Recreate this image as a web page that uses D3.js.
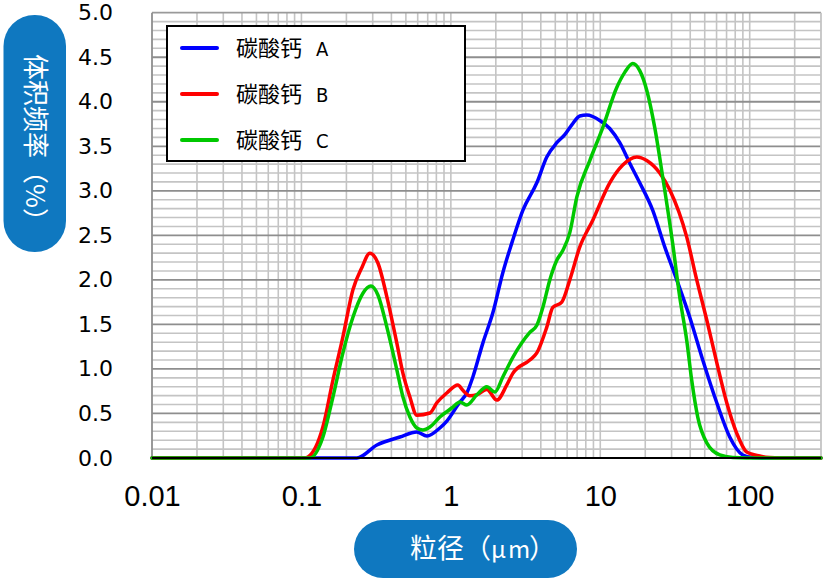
<!DOCTYPE html>
<html>
<head>
<meta charset="utf-8">
<script src="https://cdn.jsdelivr.net/npm/d3@7"></script>
<style>
  html, body { margin: 0; padding: 0; background: #fff; }
  svg { display: block; }
</style>
</head>
<body>
<svg id="chart" width="827" height="583"></svg>
<script>
// ---- data (particle size in µm, volume frequency in %) ----
const seriesNames = ["碳酸钙", "碳酸钙", "碳酸钙"];
const seriesTags = ["A", "B", "C"];
const seriesColors = ["#0000FF", "#FF0000", "#00C800"];

const sizeA = [0.01, 0.2, 0.235, 0.32, 0.456, 0.592, 0.691, 0.844, 0.94, 1.149, 1.279, 1.404, 1.637, 1.91, 2.227, 2.599, 3.031, 3.761, 4.386, 5.117, 5.787, 6.448, 7.294, 8.123, 9.924, 11.57, 13.5, 15.75, 18.37, 22.45, 27.0, 32.5, 39.7, 48.5, 60.2, 73.5, 89.8, 104.7, 120, 300];
const volA  = [0, 0, 0.0, 0.146, 0.236, 0.292, 0.247, 0.337, 0.415, 0.628, 0.73, 0.91, 1.29, 1.63, 2.08, 2.45, 2.78, 3.09, 3.38, 3.54, 3.63, 3.74, 3.84, 3.85, 3.79, 3.70, 3.54, 3.31, 3.09, 2.78, 2.37, 2.0, 1.58, 1.10, 0.62, 0.236, 0.034, 0.005, 0, 0];

const sizeB = [0.01, 0.1055, 0.1105, 0.1393, 0.1625, 0.1895, 0.2211, 0.254, 0.287, 0.325, 0.373, 0.435, 0.478, 0.532, 0.592, 0.724, 0.806, 0.94, 1.114, 1.203, 1.34, 1.493, 1.741, 2.031, 2.369, 2.599, 3.376, 3.761, 4.386, 4.811, 5.526, 6.252, 7.294, 8.909, 11.57, 14.14, 17.54, 20.46, 25.0, 29.2, 37.9, 44.2, 51.6, 60.2, 70.2, 81.8, 95.5, 116.7, 136, 160, 300];
const volB  = [0, 0, 0.01, 0.35, 0.875, 1.36, 1.89, 2.14, 2.30, 2.19, 1.81, 1.29, 0.95, 0.685, 0.48, 0.505, 0.62, 0.73, 0.82, 0.76, 0.70, 0.71, 0.77, 0.65, 0.82, 0.95, 1.10, 1.18, 1.47, 1.69, 1.75, 2.0, 2.37, 2.67, 3.09, 3.29, 3.38, 3.34, 3.20, 3.01, 2.48, 2.0, 1.55, 1.07, 0.62, 0.28, 0.067, 0.022, 0.005, 0, 0];

const sizeC = [0.01, 0.114, 0.1393, 0.1625, 0.1895, 0.2211, 0.258, 0.2917, 0.325, 0.373, 0.435, 0.478, 0.532, 0.592, 0.650, 0.724, 0.844, 1.031, 1.149, 1.279, 1.493, 1.741, 1.969, 2.227, 2.599, 3.376, 3.761, 4.125, 4.594, 5.117, 5.612, 6.252, 6.964, 8.508, 10.39, 12.89, 14.58, 16.5, 18.37, 20.46, 23.15, 26.2, 30.5, 34.0, 37.9, 40.9, 44.9, 51.6, 63.0, 77.0, 95, 300];
const volC  = [0, 0, 0.236, 0.685, 1.18, 1.58, 1.85, 1.93, 1.83, 1.47, 0.99, 0.685, 0.46, 0.337, 0.314, 0.348, 0.46, 0.57, 0.63, 0.595, 0.71, 0.80, 0.74, 0.91, 1.13, 1.41, 1.49, 1.69, 2.0, 2.22, 2.33, 2.53, 2.93, 3.34, 3.71, 4.16, 4.33, 4.43, 4.35, 4.13, 3.71, 3.15, 2.41, 1.81, 1.32, 0.875, 0.46, 0.17, 0.034, 0.005, 0, 0];

const xTicks = [0.01, 0.1, 1, 10, 100];
const xTickLabels = ["0.01", "0.1", "1", "10", "100"];
const yTicks = [0, 0.5, 1.0, 1.5, 2.0, 2.5, 3.0, 3.5, 4.0, 4.5, 5.0];
const yLabel = "体积频率（%）";
const xLabelParts = ["粒径（", "μ", "m", "）"];

// ---- layout ----
const svg = d3.select("#chart");
const plot = { left: 152, right: 821, top: 12.7, bottom: 458 };

const x = d3.scaleLog().domain([0.01, 300]).range([plot.left, plot.right]);
const y = d3.scaleLinear().domain([0, 5]).range([plot.bottom, plot.top]);

// gridlines
const grid = svg.append("g");
const minorX = [];
for (let d = 0.01; d < 1000; d *= 10) {
  for (let k = 1; k <= 9; k++) {
    const v = +(d * k).toPrecision(3);
    if (v > 0.01 && v < 300) minorX.push(v);
  }
}
grid.selectAll("line.vx").data(minorX).join("line")
  .attr("x1", d => x(d)).attr("x2", d => x(d))
  .attr("y1", plot.top).attr("y2", plot.bottom)
  .attr("stroke", "#c4c4c4").attr("stroke-width", 1.6);

const minorY = d3.range(1, 50).map(i => i / 10).filter(v => Math.round(v * 10) % 5 !== 0);
grid.selectAll("line.my").data(minorY).join("line")
  .attr("x1", plot.left).attr("x2", plot.right)
  .attr("y1", d => y(d)).attr("y2", d => y(d))
  .attr("stroke", "#c4c4c4").attr("stroke-width", 1.6);

grid.selectAll("line.My").data(yTicks.filter(v => v > 0 && v < 5)).join("line")
  .attr("x1", plot.left).attr("x2", plot.right)
  .attr("y1", d => y(d)).attr("y2", d => y(d))
  .attr("stroke", "#8e8e8e").attr("stroke-width", 1.8);

// plot border
grid.append("line").attr("x1", plot.left).attr("x2", plot.right).attr("y1", plot.top).attr("y2", plot.top)
  .attr("stroke", "#9a9a9a").attr("stroke-width", 1.8);
grid.append("line").attr("x1", plot.right).attr("x2", plot.right).attr("y1", plot.top).attr("y2", plot.bottom)
  .attr("stroke", "#c4c4c4").attr("stroke-width", 1.8);
grid.append("line").attr("x1", plot.left).attr("x2", plot.left).attr("y1", plot.top).attr("y2", plot.bottom)
  .attr("stroke", "#8e8e8e").attr("stroke-width", 1.8);

// axes
const xAxis = svg.append("g").attr("transform", `translate(0,${plot.bottom})`)
  .call(d3.axisBottom(x).tickValues(xTicks).tickSize(0).tickPadding(27)
    .tickFormat((d, i) => xTickLabels[i]));
xAxis.select(".domain").remove();
xAxis.selectAll("text").attr("font-family", "'Liberation Sans', Arial, sans-serif")
  .attr("font-size", 29).attr("fill", "#000");

const yAxis = svg.append("g").attr("transform", `translate(${plot.left},0)`)
  .call(d3.axisLeft(y).tickValues(yTicks).tickSize(0).tickPadding(39).tickFormat(d3.format(".1f")));
yAxis.select(".domain").remove();
yAxis.selectAll("text").attr("font-family", "'DejaVu Sans', Verdana, sans-serif")
  .attr("font-size", 22).attr("fill", "#000");

// series
const series = [
  { name: seriesNames[0], tag: seriesTags[0], color: seriesColors[0], xs: sizeA, ys: volA },
  { name: seriesNames[1], tag: seriesTags[1], color: seriesColors[1], xs: sizeB, ys: volB },
  { name: seriesNames[2], tag: seriesTags[2], color: seriesColors[2], xs: sizeC, ys: volC }
];
const line = d3.line().x(d => x(d[0])).y(d => y(d[1])).curve(d3.curveMonotoneX);

svg.append("g").selectAll("path").data(series).join("path")
  .attr("d", s => line(s.xs.map((v, i) => [v, s.ys[i]])))
  .attr("fill", "none")
  .attr("stroke", s => s.color)
  .attr("stroke-width", 3.5)
  .attr("stroke-linejoin", "round")
  .attr("stroke-linecap", "round");

// bottom axis line (black)
svg.append("line").attr("x1", plot.left).attr("x2", plot.right)
  .attr("y1", plot.bottom).attr("y2", plot.bottom)
  .attr("stroke", "#000").attr("stroke-width", 1.8);

// legend
const lg = svg.append("g");
lg.append("rect").attr("x", 167).attr("y", 26).attr("width", 298).attr("height", 135)
  .attr("fill", "#fff").attr("stroke", "#000").attr("stroke-width", 2);
const rows = [48, 94, 140];
series.forEach((s, i) => {
  lg.append("line").attr("x1", 182).attr("x2", 217).attr("y1", rows[i]).attr("y2", rows[i])
    .attr("stroke", s.color).attr("stroke-width", 4).attr("stroke-linecap", "round");
  const t = lg.append("text").attr("x", 236).attr("y", rows[i]).attr("dy", "0.36em")
    .attr("font-family", "'Noto Sans CJK SC', sans-serif").attr("font-size", 22)
    .attr("fill", "#000");
  t.append("tspan").text(s.name + " ");
  t.append("tspan").attr("x", 316).attr("font-family", "'Liberation Sans Narrow', 'DejaVu Sans Condensed', 'Liberation Sans', sans-serif")
    .attr("font-size", 20).text(s.tag);
});

// y label pill
svg.append("rect").attr("x", 3.5).attr("y", 15).attr("width", 62.5).attr("height", 237)
  .attr("rx", 31).attr("ry", 31).attr("fill", "#0F78C0");
svg.append("text")
  .attr("transform", "translate(35,144) rotate(90)")
  .attr("text-anchor", "middle").attr("dy", "0.36em")
  .attr("font-family", "'Noto Sans CJK SC', sans-serif").attr("font-size", 26)
  .attr("fill", "#fff").text(yLabel);

// x label pill
svg.append("rect").attr("x", 354).attr("y", 520).attr("width", 223).attr("height", 58)
  .attr("rx", 29).attr("ry", 29).attr("fill", "#0F78C0");
const xl = svg.append("text").attr("x", 410).attr("y", 548).attr("dy", "0.36em")
  .attr("font-family", "'Noto Sans CJK SC', sans-serif").attr("font-size", 27)
  .attr("fill", "#fff");
xl.append("tspan").text(xLabelParts[0]);
xl.append("tspan").attr("x", 491).attr("font-size", 24).text(xLabelParts[1]);
xl.append("tspan").attr("x", 508).attr("font-size", 24).text(xLabelParts[2]);
xl.append("tspan").attr("x", 529).text(xLabelParts[3]);
</script>
</body>
</html>
